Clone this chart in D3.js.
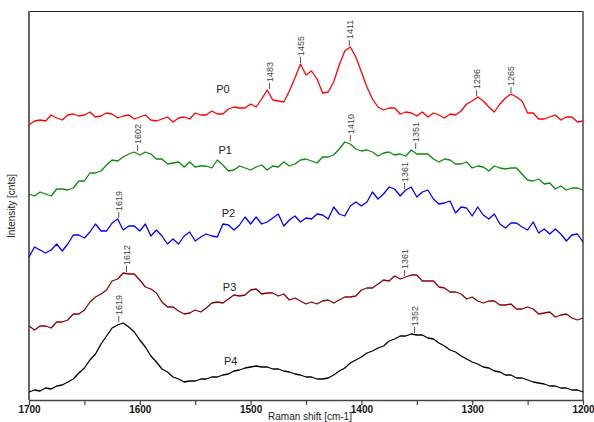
<!DOCTYPE html>
<html><head><meta charset="utf-8">
<script src="https://cdn.jsdelivr.net/npm/d3@7/dist/d3.min.js"></script>
<style>
html,body{margin:0;padding:0;background:#fff;}
svg{display:block;}
text{font-family:"Liberation Sans",Arial,sans-serif;}
</style></head>
<body>
<svg id="chart" width="594" height="422"></svg>
<script>
// Raman shift grid (cm-1), 1700 -> 1200 step 5
const shifts = d3.range(1700, 1199, -5);

// Intensity [cnts] (arbitrary units, traces stacked as in the figure)
const P0 = [275,279,280,279,285,282,280,285,286,284,
285,288,283,284,287,286,282,284,285,281,
283,285,280,279,281,283,278,282,283,281,
287,285,285,289,286,286,291,293,292,292,
296,293,301,310,300,299,298,309,322,336,
325,329,321,307,308,318,335,349,353,343,
328,313,301,293,290,292,292,286,288,287,
284,288,283,287,285,282,286,285,289,296,
299,303,299,293,288,296,302,306,303,299,
287,287,281,281,283,285,280,283,283,278,
279];
const P1 = [206,204,208,206,204,211,211,210,212,219,
219,227,227,229,235,240,239,243,246,248,
245,248,246,241,241,236,237,238,233,238,
233,234,234,232,240,235,229,230,234,232,
230,233,235,230,234,233,238,234,236,240,
241,239,237,243,243,245,251,258,256,251,
249,250,248,244,247,248,245,246,244,250,
246,246,246,241,238,241,240,236,236,238,
232,234,233,229,234,232,231,232,232,226,
220,219,221,216,217,211,214,210,212,212,
210];
const P2 = [143,153,150,147,150,156,149,156,165,165,
162,168,176,169,169,177,181,170,174,174,
169,176,164,170,164,156,161,156,164,168,
159,163,166,164,163,176,175,170,175,183,
176,183,176,178,182,186,174,180,184,178,
182,181,186,185,181,193,186,184,194,198,
194,198,208,201,206,213,211,204,210,213,
203,208,210,201,196,197,199,187,193,192,
184,193,185,181,186,176,172,177,177,173,
170,178,167,171,166,171,166,159,165,166,
158];
const P3 = [74,70,74,74,72,78,78,80,86,86,
90,98,103,106,110,119,121,127,126,126,
120,113,111,107,98,93,93,89,86,87,
90,88,92,97,98,97,101,105,104,105,
110,111,106,107,107,104,106,100,102,99,
96,98,96,99,100,97,100,103,103,104,
110,112,112,116,120,119,124,121,123,125,
125,119,119,119,113,112,108,108,106,101,
103,99,97,99,99,95,95,96,91,91,
93,91,86,87,88,83,85,86,82,80,
82];
const P4 = [8,10,9,12,11,14,15,18,21,27,
32,40,46,56,64,72,75,77,73,68,
60,53,44,38,31,28,23,21,18,19,
19,21,21,23,23,25,26,29,30,32,
33,34,33,33,31,31,29,28,26,25,
23,23,21,21,22,25,29,32,37,40,
43,47,49,52,54,59,61,64,64,66,
65,65,62,61,57,54,50,48,44,41,
38,36,33,32,29,28,25,25,22,22,
20,18,17,16,14,14,12,12,10,10,
8];

const seriesNames = ["P0","P1","P2","P3","P4"];
const seriesValues = [P0,P1,P2,P3,P4];
const seriesColors = ["#ff0000","#0a8a0a","#0000ff","#8b0000","#000000"];
// peak annotations (cm-1) per series
const peakLabels = [
  [1483,1455,1411,1296,1265],
  [1602,1410,1351],
  [1619,1361],
  [1612,1361],
  [1619,1352]
];
// series name label anchor (cm-1, intensity)
const nameAt = [[1525,307],[1523,246],[1520,183],[1519,109],[1518,35]];

const xTicks = d3.range(1700, 1199, -50);
const xTickLabels = [1700,1600,1500,1400,1300,1200];

const svg = d3.select("#chart");
const L=29, R=583, T=11, B=400;
const x = d3.scaleLinear().domain([1700,1200]).range([L,R]);
const y = d3.scaleLinear().domain([0,389]).range([B,T]);

// frame
svg.append("line").attr("x1",L).attr("x2",R).attr("y1",T+0.5).attr("y2",T+0.5).attr("stroke","#222").attr("stroke-width",1);
svg.append("line").attr("x1",R).attr("x2",R).attr("y1",T).attr("y2",B).attr("stroke","#777").attr("stroke-width",2);
svg.append("line").attr("x1",L).attr("x2",L).attr("y1",T).attr("y2",B).attr("stroke","#666").attr("stroke-width",2);

// x axis
const xAxis = d3.axisBottom(x).tickValues(xTicks).tickSize(5).tickSizeOuter(0)
  .tickFormat(d => xTickLabels.includes(d) ? d : "");
const gx = svg.append("g").attr("transform",`translate(0,${B})`).call(xAxis);
gx.select(".domain").attr("stroke","#444").attr("stroke-width",1.5);
gx.selectAll(".tick line").attr("stroke","#444").attr("stroke-width",1.2);
gx.selectAll(".tick text").attr("font-size",10).attr("font-weight","bold").attr("fill","#111").attr("dy","0.45em")
  .attr("font-family","'Liberation Sans',Arial,sans-serif");

svg.append("text").attr("x",310).attr("y",420).attr("text-anchor","middle").attr("font-size",10).attr("fill","#222")
  .text("Raman shift [cm-1]");
svg.append("text").attr("transform","translate(15,206) rotate(-90)").attr("text-anchor","middle").attr("font-size",10).attr("fill","#222")
  .text("Intensity [cnts]");

const line = d3.line().x((d,i)=>x(shifts[i])).y(d=>y(d));
seriesValues.forEach((vals,k)=>{
  svg.append("path").datum(vals).attr("d",line).attr("fill","none")
    .attr("stroke",seriesColors[k]).attr("stroke-width",1.3).attr("stroke-linejoin","round");
  svg.append("text").attr("x",x(nameAt[k][0])).attr("y",y(nameAt[k][1])).attr("text-anchor","middle")
    .attr("font-size",11).attr("fill","#222").text(seriesNames[k]);
  peakLabels[k].forEach(p=>{
    let best=-Infinity;
    shifts.forEach((s,i)=>{ if(Math.abs(s-p)<=5 && vals[i]>best) best=vals[i]; });
    const py=y(best);
    const px=x(p);
    svg.append("line").attr("x1",px).attr("x2",px).attr("y1",py-1).attr("y2",py-7).attr("stroke","#555").attr("stroke-width",1);
    svg.append("text").attr("transform",`translate(${px+3.3},${py-8}) rotate(-90)`).attr("font-size",9).attr("fill","#444")
      .text(p);
  });
});
</script>
</body></html>
